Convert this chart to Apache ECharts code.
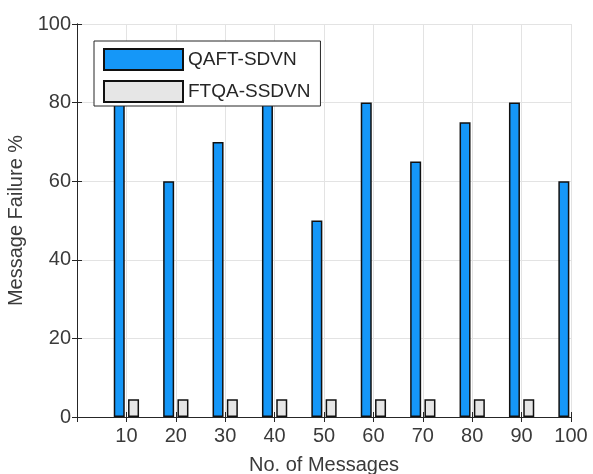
<!DOCTYPE html>
<html>
<head>
<meta charset="utf-8">
<script src="https://cdn.jsdelivr.net/npm/echarts@6/dist/echarts.min.js"></script>
<style>
  html, body { margin: 0; padding: 0; background: #fff; }
  #chart { width: 593px; height: 474px; }
</style>
</head>
<body>
<div id="chart"></div>
<script>
// Number of messages on the x axis
const messages = [10, 20, 30, 40, 50, 60, 70, 80, 90, 100];
// Message failure percentage for each scheme
const qaftSdvn = [80, 60, 70, 80, 50, 80, 65, 75, 80, 60];
const ftqaSsdvn = [4.5, 4.5, 4.5, 4.5, 4.5, 4.5, 4.5, 4.5, 4.5, null];
const yTicks = [0, 20, 40, 60, 80, 100];

const textColor = '#3a3a3a';
const fontFamily = '"Liberation Sans", Arial, sans-serif';

const chart = echarts.init(document.getElementById('chart'), null, { renderer: 'canvas' });

const axisLine = { show: true, lineStyle: { color: '#262626', width: 1 } };
const tick = { show: true, inside: true, length: 5, lineStyle: { color: '#262626' } };
const grid = { show: true, lineStyle: { color: '#e3e3e3', width: 1 } };

chart.setOption({
  animation: false,
  backgroundColor: '#ffffff',
  grid: { left: 77, right: 22, top: 24, bottom: 57, containLabel: false, outerBoundsMode: 'none' },
  legend: {
    orient: 'vertical',
    left: 94,
    top: 41,
    icon: 'rect',
    itemWidth: 79,
    itemHeight: 21,
    itemGap: 9,
    padding: [7, 10, 3, 9],
    borderColor: '#262626',
    borderWidth: 1,
    backgroundColor: '#ffffff',
    textStyle: { fontSize: 19, color: '#262626', fontFamily: fontFamily },
    data: ['QAFT-SDVN', 'FTQA-SSDVN']
  },
  xAxis: [
    {
      type: 'value',
      min: 0,
      max: 100,
      interval: 10,
      position: 'bottom',
      name: 'No. of Messages',
      nameLocation: 'middle',
      nameGap: 38,
      nameTextStyle: { fontSize: 20, color: textColor, fontFamily: fontFamily },
      axisLine: axisLine,
      axisTick: tick,
      splitLine: grid,
      axisLabel: {
        fontSize: 20, color: textColor, fontFamily: fontFamily, margin: 9,
        formatter: v => (messages.indexOf(v) >= 0 ? String(v) : '')
      }
    },
    {
      type: 'value',
      min: 0,
      max: 100,
      interval: 10,
      position: 'top',
      axisLine: axisLine,
      axisTick: tick,
      axisLabel: { show: false },
      splitLine: { show: false }
    }
  ],
  yAxis: [
    {
      type: 'value',
      min: yTicks[0],
      max: yTicks[yTicks.length - 1],
      interval: 20,
      position: 'left',
      name: 'Message Failure %',
      nameLocation: 'middle',
      nameGap: 46,
      nameTextStyle: { fontSize: 20, color: textColor, fontFamily: fontFamily },
      axisLine: axisLine,
      axisTick: tick,
      splitLine: grid,
      axisLabel: { fontSize: 20, color: textColor, fontFamily: fontFamily, margin: 6 }
    },
    {
      type: 'value',
      min: yTicks[0],
      max: yTicks[yTicks.length - 1],
      interval: 20,
      position: 'right',
      axisLine: axisLine,
      axisTick: tick,
      axisLabel: { show: false },
      splitLine: { show: false }
    }
  ],
  series: [
    {
      name: 'QAFT-SDVN',
      type: 'bar',
      barWidth: 11,
      barGap: '30%',
      clip: true,
      itemStyle: { color: '#1597f8', borderColor: '#111111', borderWidth: 1.5 },
      data: messages.map((m, i) => [m, qaftSdvn[i]])
    },
    {
      name: 'FTQA-SSDVN',
      type: 'bar',
      barWidth: 11,
      barGap: '30%',
      clip: true,
      itemStyle: { color: '#e6e6e6', borderColor: '#111111', borderWidth: 1.5 },
      data: messages.map((m, i) => [m, ftqaSsdvn[i]])
    }
  ]
});
</script>
</body>
</html>
